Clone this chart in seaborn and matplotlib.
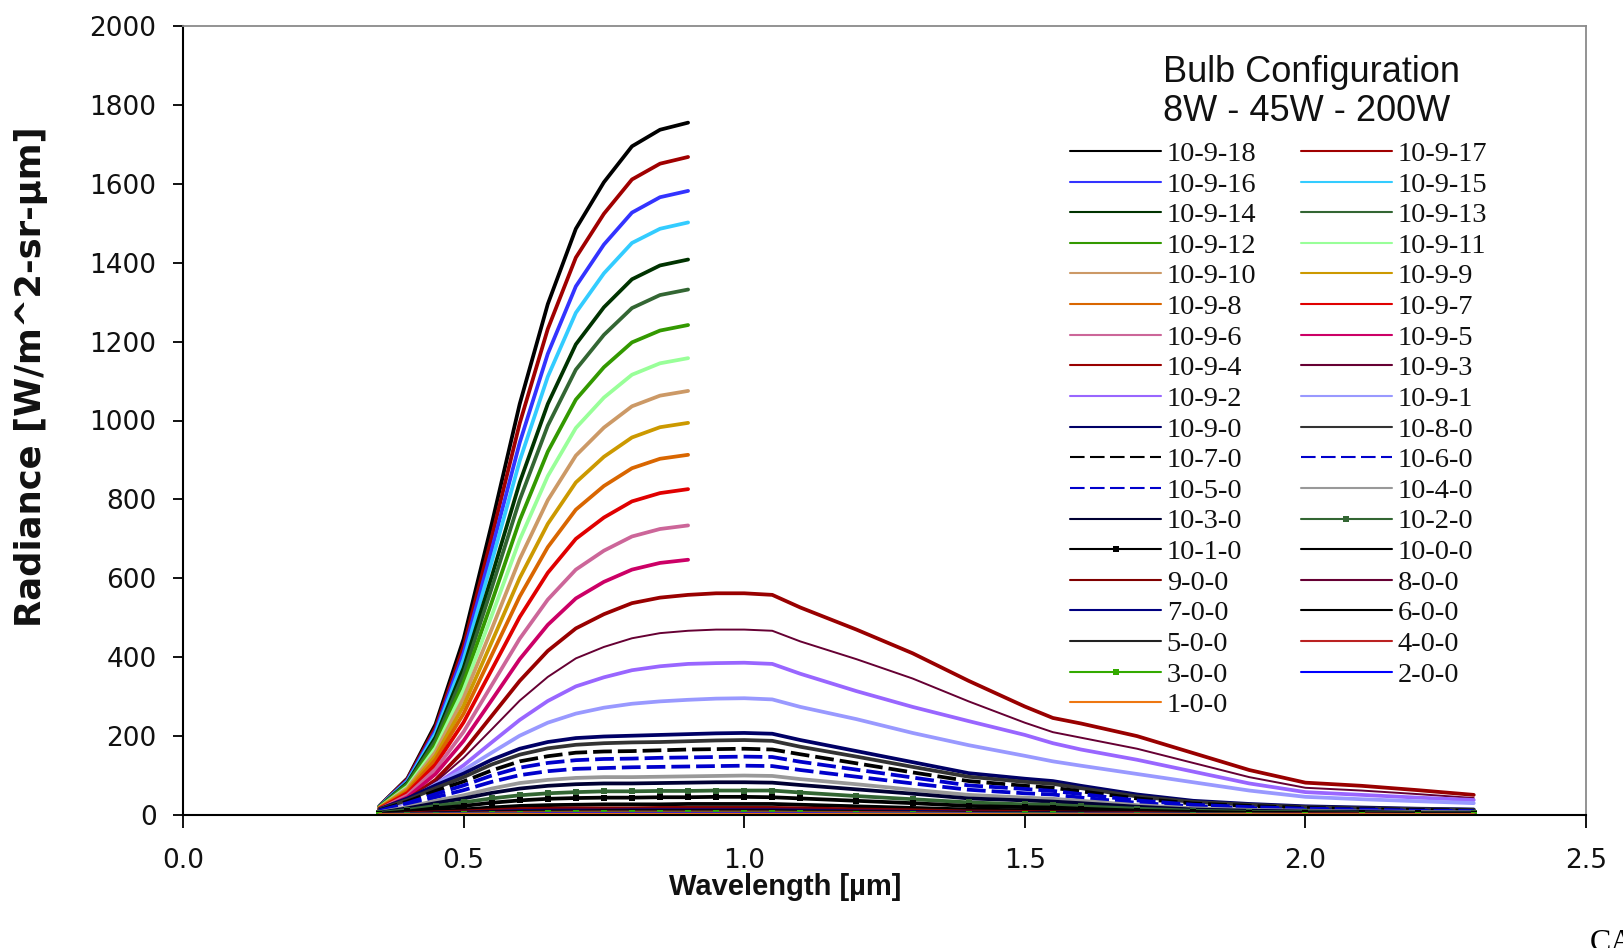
import matplotlib
matplotlib.use("Agg")
import matplotlib.pyplot as plt
from matplotlib.font_manager import FontProperties
import seaborn as sns
import pandas as pd

# ---------------- data ----------------
wl_vis = [0.35, 0.40, 0.45, 0.50, 0.55, 0.60, 0.65, 0.70, 0.75, 0.80, 0.85, 0.90]
wl_full = [0.35, 0.40, 0.45, 0.50, 0.55, 0.60, 0.65, 0.70, 0.75, 0.80, 0.85, 0.90,
           0.95, 1.00, 1.05, 1.10, 1.20, 1.30, 1.40, 1.50, 1.55, 1.60, 1.70, 1.80,
           1.90, 2.00, 2.10, 2.20, 2.30]

s_10_9_18 = [23, 93, 230, 446, 737, 1042, 1295, 1486, 1604, 1695, 1737, 1755]
s_10_9_17 = [23, 91, 222, 428, 704, 993, 1232, 1413, 1524, 1611, 1651, 1668]
s_10_9_16 = [22, 88, 214, 411, 672, 944, 1169, 1340, 1446, 1527, 1566, 1582]
s_10_9_15 = [22, 85, 207, 394, 641, 898, 1111, 1273, 1373, 1450, 1486, 1502]
s_10_9_14 = [21, 82, 197, 373, 604, 843, 1042, 1193, 1287, 1358, 1393, 1408]
s_10_9_13 = [21, 79, 189, 357, 575, 799, 987, 1129, 1217, 1285, 1318, 1332]
s_10_9_12 = [20, 76, 179, 336, 539, 747, 921, 1053, 1135, 1198, 1228, 1242]
s_10_9_11 = [19, 72, 170, 317, 505, 698, 859, 981, 1058, 1116, 1145, 1158]
s_10_9_10 = [19, 68, 160, 297, 471, 649, 798, 911, 982, 1036, 1063, 1075]
s_10_9_9 = [18, 64, 150, 277, 438, 601, 738, 843, 908, 957, 983, 994]
s_10_9_8 = [17, 60, 140, 257, 405, 554, 679, 774, 834, 879, 903, 913]
s_10_9_7 = [16, 56, 128, 235, 368, 502, 614, 700, 754, 795, 816, 826]
s_10_9_6 = [14, 50, 116, 211, 329, 447, 546, 622, 670, 706, 725, 734]
s_10_9_5 = [13, 45, 104, 188, 291, 395, 482, 549, 591, 622, 639, 647]

s_10_9_4 = [11, 39, 89, 162, 251, 340, 416, 473, 509, 537, 551, 558,
            562, 562, 558, 526, 470, 410, 340, 275, 246, 232, 200, 157, 114, 82, 74, 63, 51]
s_10_9_3 = [10, 37, 84, 145, 217, 290, 350, 397, 426, 448, 461, 467,
            470, 470, 467, 440, 395, 346, 288, 234, 210, 196, 168, 132, 96, 69, 62, 53, 43]
s_10_9_2 = [10, 34, 77, 126, 184, 241, 289, 326, 349, 367, 377, 383,
            385, 386, 383, 358, 314, 274, 238, 203, 182, 166, 140, 110, 80, 58, 51, 44, 38]
s_10_9_1 = [9, 36, 78, 114, 158, 201, 234, 257, 272, 282, 288, 292,
            295, 296, 293, 274, 243, 208, 177, 150, 136, 125, 104, 83, 62, 46, 40, 35, 30]
s_10_9_0 = [15, 42, 75, 105, 140, 168, 185, 195, 199, 201, 203, 205,
            207, 208, 206, 190, 162, 134, 106, 92, 86, 74, 52, 36, 28, 22, 19, 16, 14]
s_10_8_0 = [14, 38, 68, 96, 128, 153, 169, 178, 182, 184, 185, 187,
            189, 190, 188, 173, 148, 122, 97, 84, 79, 68, 47, 33, 26, 20, 17, 15, 13]
s_10_7_0 = [12, 34, 61, 85, 113, 136, 149, 158, 161, 162, 164, 166,
            167, 168, 166, 154, 131, 108, 86, 74, 69, 60, 42, 29, 23, 18, 15, 13, 11]
s_10_6_0 = [11, 30, 53, 75, 100, 120, 132, 139, 142, 143, 145, 146,
            147, 148, 147, 135, 115, 95, 75, 66, 61, 53, 37, 26, 20, 16, 14, 11, 10]
s_10_5_0 = [9, 25, 45, 63, 84, 101, 111, 117, 119, 121, 122, 123,
            124, 125, 124, 114, 97, 80, 64, 55, 52, 44, 31, 22, 17, 13, 11, 10, 8]
s_10_4_0 = [7, 20, 36, 50, 67, 81, 89, 94, 96, 96, 97, 98,
            99, 100, 99, 91, 78, 64, 51, 44, 41, 36, 25, 17, 13, 11, 9, 8, 7]
s_10_3_0 = [6, 17, 30, 42, 56, 67, 74, 78, 80, 80, 81, 82,
            83, 83, 82, 76, 65, 54, 42, 37, 34, 30, 21, 14, 11, 9, 8, 6, 6]
s_10_2_0 = [5, 13, 23, 32, 42, 50, 55, 58, 60, 60, 61, 61,
            62, 62, 62, 57, 48, 40, 32, 27, 26, 22, 16, 11, 8, 7, 6, 5, 4]
s_10_1_0 = [3, 9, 17, 23, 31, 37, 41, 43, 44, 44, 45, 45,
            46, 46, 45, 42, 36, 30, 23, 20, 19, 16, 11, 8, 6, 5, 4, 4, 3]
s_10_0_0 = [2, 6, 10, 14, 19, 23, 25, 26, 27, 27, 27, 28,
            28, 28, 28, 26, 22, 18, 14, 12, 12, 10, 7, 5, 4, 3, 3, 2, 2]
s_9_0_0 = [1, 4, 7, 9, 12, 15, 16, 17, 17, 17, 18, 18,
           18, 18, 18, 17, 14, 12, 9, 8, 7, 6, 5, 3, 2, 2, 2, 1, 1]
s_8_0_0 = [1, 3, 5, 8, 10, 12, 13, 14, 14, 14, 15, 15,
           15, 15, 15, 14, 12, 10, 8, 7, 6, 5, 4, 3, 2, 2, 1, 1, 1]
s_7_0_0 = [1, 2, 4, 6, 8, 10, 11, 11, 11, 12, 12, 12,
           12, 12, 12, 11, 9, 8, 6, 5, 5, 4, 3, 2, 2, 1, 1, 1, 1]
s_6_0_0 = [1, 2, 4, 5, 7, 8, 9, 9, 10, 10, 10, 10,
           10, 10, 10, 9, 8, 6, 5, 4, 4, 4, 3, 2, 1, 1, 1, 1, 1]
s_5_0_0 = [1, 2, 3, 4, 5, 6, 7, 7, 8, 8, 8, 8,
           8, 8, 8, 7, 6, 5, 4, 4, 3, 3, 2, 1, 1, 1, 1, 1, 1]
s_4_0_0 = [0, 1, 2, 3, 4, 5, 5, 6, 6, 6, 6, 6,
           6, 6, 6, 5, 5, 4, 3, 3, 2, 2, 2, 1, 1, 1, 1, 0, 0]
s_3_0_0 = [0, 1, 1, 2, 3, 3, 4, 4, 4, 4, 4, 4,
           4, 4, 4, 4, 3, 3, 2, 2, 2, 1, 1, 1, 1, 0, 0, 0, 0]
s_2_0_0 = [0, 1, 1, 2, 2, 2, 3, 3, 3, 3, 3, 3,
           3, 3, 3, 3, 2, 2, 2, 1, 1, 1, 1, 1, 0, 0, 0, 0, 0]
s_1_0_0 = [0, 0, 0, 1, 1, 1, 1, 1, 1, 1, 1, 1,
           1, 1, 1, 1, 1, 1, 1, 0, 0, 0, 0, 0, 0, 0, 0, 0, 0]

series_labels = ["10-9-18", "10-9-17", "10-9-16", "10-9-15", "10-9-14", "10-9-13",
                 "10-9-12", "10-9-11", "10-9-10", "10-9-9", "10-9-8", "10-9-7",
                 "10-9-6", "10-9-5", "10-9-4", "10-9-3", "10-9-2", "10-9-1",
                 "10-9-0", "10-8-0", "10-7-0", "10-6-0", "10-5-0", "10-4-0",
                 "10-3-0", "10-2-0", "10-1-0", "10-0-0", "9-0-0", "8-0-0",
                 "7-0-0", "6-0-0", "5-0-0", "4-0-0", "3-0-0", "2-0-0", "1-0-0"]
series_values = [s_10_9_18, s_10_9_17, s_10_9_16, s_10_9_15, s_10_9_14, s_10_9_13,
                 s_10_9_12, s_10_9_11, s_10_9_10, s_10_9_9, s_10_9_8, s_10_9_7,
                 s_10_9_6, s_10_9_5, s_10_9_4, s_10_9_3, s_10_9_2, s_10_9_1,
                 s_10_9_0, s_10_8_0, s_10_7_0, s_10_6_0, s_10_5_0, s_10_4_0,
                 s_10_3_0, s_10_2_0, s_10_1_0, s_10_0_0, s_9_0_0, s_8_0_0,
                 s_7_0_0, s_6_0_0, s_5_0_0, s_4_0_0, s_3_0_0, s_2_0_0, s_1_0_0]

x_ticks = [0.0, 0.5, 1.0, 1.5, 2.0, 2.5]
x_tick_labels = ["0.0", "0.5", "1.0", "1.5", "2.0", "2.5"]
y_ticks = [0, 200, 400, 600, 800, 1000, 1200, 1400, 1600, 1800, 2000]

# ---------------- styles ----------------
colors = ["#000000", "#a00000", "#3333ff", "#33ccff", "#003300", "#336633",
          "#339900", "#99ff99", "#cc9966", "#cc9900", "#d96600", "#e00000",
          "#cc6699", "#cc0066", "#990000", "#660033", "#9966ff", "#9999ff",
          "#000066", "#333333", "#000000", "#0000cc", "#0000cc", "#999999",
          "#000033", "#336633", "#000000", "#000000", "#800000", "#660033",
          "#000080", "#000000", "#222222", "#bb2222", "#33aa00", "#0000ff", "#ee7711"]
thin = {"10-9-3": 1.4, "8-0-0": 1.6}
dashed = {"10-7-0", "10-6-0", "10-5-0"}
marked = {"10-2-0", "10-1-0", "3-0-0"}

# ---------------- figure ----------------
sns.set_style("ticks")
plt.rcParams["font.family"] = ["DejaVu Sans"]
W, H = 1623, 948
fig = plt.figure(figsize=(W / 100, H / 100), dpi=100)
ax = fig.add_axes([183 / W, 1 - 815 / H, (1586 - 183) / W, (815 - 26) / H])

for lab, vals, col in zip(series_labels, series_values, colors):
    xs = wl_vis if len(vals) == len(wl_vis) else wl_full
    df = pd.DataFrame({"wl": xs, "rad": vals})
    kw = dict(color=col, linewidth=thin.get(lab, 2.7), label=lab)
    if lab in dashed:
        kw["dashes"] = (5, 1.6)
    if lab in marked:
        kw["marker"] = "s"
        kw["markersize"] = 4.5
        kw["markeredgewidth"] = 0
    sns.lineplot(data=df, x="wl", y="rad", ax=ax, estimator=None, sort=False,
                 errorbar=None, legend=False, **kw)

ax.set_xlim(0, 2.5)
ax.set_ylim(0, 2000)
ax.set_xticks(x_ticks)
ax.set_xticklabels(x_tick_labels)
ax.set_yticks(y_ticks)
ax.set_xlabel("")
ax.set_ylabel("")
ax.tick_params(axis="x", direction="out", length=9, width=1.4, pad=15,
               labelsize=19, colors="#111111")
ax.tick_params(axis="y", direction="out", length=7, width=1.4, pad=12,
               labelsize=19, colors="#111111")
for s in ("left", "bottom"):
    ax.spines[s].set_color("#000000")
    ax.spines[s].set_linewidth(1.5)
for s in ("top", "right"):
    ax.spines[s].set_visible(True)
    ax.spines[s].set_color("#8a8a8a")
    ax.spines[s].set_linewidth(1.3)

# axis labels
fig.text(785 / W, 1 - 887 / H, "Wavelength [µm]", ha="center", va="center",
         fontsize=21, fontweight="bold", family="Liberation Sans", color="#111111")
fig.text(31 / W, 1 - 377 / H, "Radiance [W/m^2-sr-µm]", ha="center", va="center",
         rotation=90, fontsize=25.5, fontweight="bold", family="DejaVu Sans",
         color="#111111")

# legend title
fig.text(1163 / W, 1 - 82 / H, "Bulb Configuration", ha="left", va="baseline",
         fontsize=26, family="Liberation Sans", color="#111111")
fig.text(1163 / W, 1 - 121 / H, "8W - 45W - 200W", ha="left", va="baseline",
         fontsize=26, family="Liberation Sans", color="#111111")

# legend (row-major order across two columns)
handles, labels = ax.get_legend_handles_labels()
order = list(range(0, len(labels), 2)) + list(range(1, len(labels), 2))
leg = fig.legend([handles[i] for i in order], [labels[i] for i in order],
                 ncol=2, loc="upper left",
                 bbox_to_anchor=(1070 / W, 1 - 141 / H), bbox_transform=fig.transFigure,
                 frameon=False, prop=FontProperties(family="Liberation Serif", size=20.5),
                 handlelength=3.2, handletextpad=0.2, columnspacing=1.55,
                 labelspacing=0.165, borderpad=0, borderaxespad=0)
for t in leg.get_texts():
    t.set_color("#111111")
for h in leg.get_lines():
    h.set_linewidth(1.5)
    if h.get_linestyle() not in ("-", "solid"):
        h.set_dashes((7, 2.6))

fig.text(1590 / W, 1 - 951 / H, "CA", ha="left", va="baseline", fontsize=23,
         family="Liberation Serif", color="#000000")

fig.savefig("out.png", dpi=100)
